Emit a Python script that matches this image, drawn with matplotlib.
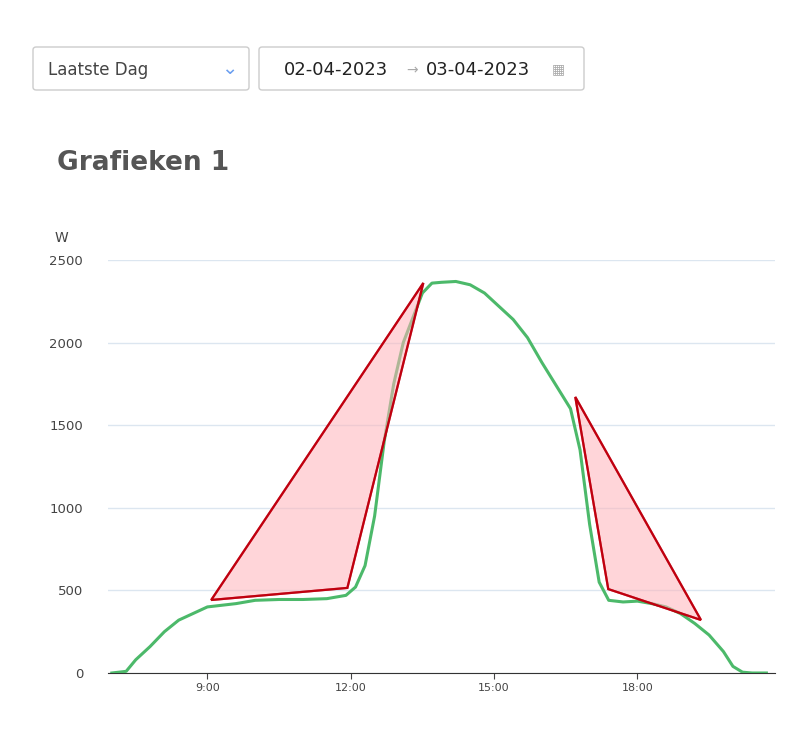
import matplotlib.pyplot as plt
from matplotlib.patches import FancyBboxPatch, Polygon
import numpy as np

hours = [7.0,7.3,7.5,7.8,8.1,8.4,8.7,9.0,9.3,9.6,10.0,10.5,11.0,11.5,11.9,12.1,12.3,12.5,12.7,12.9,13.1,13.3,13.5,13.7,13.9,14.2,14.5,14.8,15.1,15.4,15.7,16.0,16.3,16.6,16.8,17.0,17.2,17.4,17.7,18.0,18.3,18.6,18.9,19.2,19.5,19.8,20.0,20.2,20.4,20.7]
watts = [0,10,80,160,250,320,360,400,410,420,440,445,445,450,470,520,650,950,1400,1750,2000,2150,2300,2360,2365,2370,2350,2300,2220,2140,2030,1880,1740,1600,1350,900,550,440,430,435,420,400,360,300,230,130,40,5,0,0]
tri1_h = [9.08, 11.93, 13.52]
tri1_w = [442, 515, 2361]
tri2_h = [16.70, 17.39, 19.33]
tri2_w = [1671, 508, 321]
yticks = [0,500,1000,1500,2000,2500]
xticks = [9,12,15,18]
xlabels = ["9:00","12:00","15:00","18:00"]

fig = plt.figure(figsize=(8,7.35), dpi=100)
ax = fig.add_axes([108/800, 1-673/735, 667/800, 413/735*1.0])
ax.set_xlim(6.92, 20.88)
ax.set_ylim(0, 2500)
ax.plot(hours, watts, color='#4cb96a', lw=2.2, zorder=3)
for h, w in [(tri1_h, tri1_w), (tri2_h, tri2_w)]:
    ax.add_patch(Polygon(list(zip(h, w)), closed=True, facecolor='#ffb3ba', alpha=0.55,
                         edgecolor='#c0000f', lw=1.6, zorder=4))
    ax.add_patch(Polygon(list(zip(h, w)), closed=True, fill=False,
                         edgecolor='#c0000f', lw=1.6, zorder=5))
ax.set_yticks(yticks)
ax.set_xticks(xticks, xlabels)
ax.grid(axis='y', color='#dce6f0', lw=1)
ax.set_axisbelow(True)
for s in ['top','right','left']:
    ax.spines[s].set_visible(False)
ax.spines['bottom'].set_color('#333333')
ax.tick_params(axis='y', length=0, labelsize=9.5, colors='#444444', pad=18)
ax.tick_params(axis='x', length=4, labelsize=8, colors='#444444')
fig.text(55/800, 1-238/735, "W", fontsize=10, color='#444444', va='center')
fig.text(57/800, 1-163/735, "Grafieken 1", fontsize=19, fontweight='bold', color='#555555', va='center')

for x0, w in [(33, 216), (259, 325)]:
    fig.patches.append(FancyBboxPatch((x0/800, 1-90/735), w/800, 43/735, boxstyle="round,pad=0,rounding_size=0.004",
                       transform=fig.transFigure, facecolor='white', edgecolor='#cccccc', lw=1))
fig.text(48/800, 1-70/735, "Laatste Dag", fontsize=12, color='#444444', va='center')
fig.text(229/800, 1-69/735, "⌄", fontsize=14, color='#6a9ef0', va='center', ha='center')
fig.text(284/800, 1-70/735, "02-04-2023", fontsize=13, color='#222222', va='center')
fig.text(412/800, 1-70/735, "→", fontsize=10, color='#aaaaaa', va='center', ha='center')
fig.text(426/800, 1-70/735, "03-04-2023", fontsize=13, color='#222222', va='center')
fig.text(558/800, 1-69/735, "▦", fontsize=10, color='#aaaaaa', va='center', ha='center')
fig.savefig("out.png")
